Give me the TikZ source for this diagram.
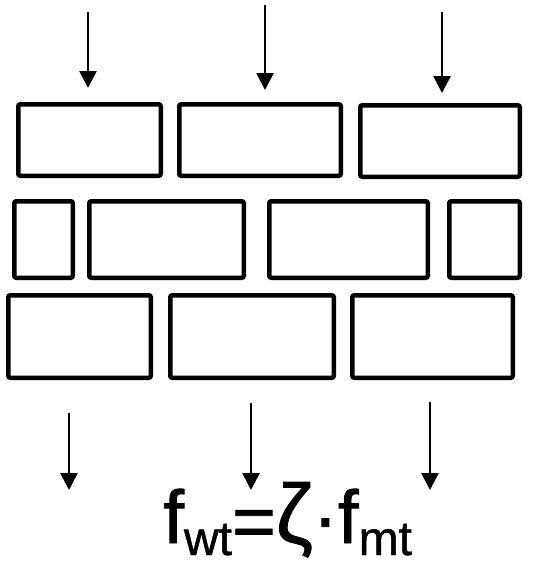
\documentclass[tikz,border=0pt]{standalone}
\usepackage{fontspec}
\setmainfont{Liberation Sans}
\newfontfamily\formfont[FakeBold=1]{Liberation Sans}
\usetikzlibrary{arrows.meta}
\tikzset{
  brick/.style={draw=black, line width=4.5pt, rounded corners=2pt, rectangle, inner sep=0pt},
  load/.style={line width=2.7pt, -{Triangle[width=17pt,length=17pt]}},
}
\newcommand{\subtxt}[1]{\raisebox{-12pt}[30pt][0pt]{\fontsize{48}{48}\selectfont #1}}
\begin{document}
\begin{tikzpicture}[x=1pt,y=-1pt]
\useasboundingbox[fill=white] (0,0) rectangle (541,566);
% row 1
\node[brick, minimum width=142.5pt, minimum height=71.5pt] (a1) at (89.5,140) {};
\node[brick, minimum width=161.5pt, minimum height=71.5pt] (a2) at (260,140) {};
\node[brick, minimum width=159.5pt, minimum height=71.5pt] (a3) at (440,141) {};
% row 2
\node[brick, minimum width=58.5pt, minimum height=76.5pt] (b1) at (43.5,239.5) {};
\node[brick, minimum width=154.5pt, minimum height=76.5pt] (b2) at (166.5,239.5) {};
\node[brick, minimum width=158.5pt, minimum height=76.5pt] (b3) at (348.5,239.5) {};
\node[brick, minimum width=70.5pt, minimum height=76.5pt] (b4) at (484.5,239.5) {};
% row 3
\node[brick, minimum width=142.5pt, minimum height=82.5pt] (c1) at (79.5,336.5) {};
\node[brick, minimum width=163.5pt, minimum height=82.5pt] (c2) at (252,336.5) {};
\node[brick, minimum width=160.5pt, minimum height=82.5pt] (c3) at (432.5,336.5) {};
% top loads
\coordinate (t1s) at (88,12);  \coordinate (t1e) at (88,88);
\coordinate (t2s) at (265,5);  \coordinate (t2e) at (265,90);
\coordinate (t3s) at (442,12); \coordinate (t3e) at (442,93);
\draw[load] (t1s) -- (t1e);
\draw[load] (t2s) -- (t2e);
\draw[load] (t3s) -- (t3e);
% bottom loads
\coordinate (u1s) at (69,413);  \coordinate (u1e) at (69,490);
\coordinate (u2s) at (251,403); \coordinate (u2e) at (251,490);
\coordinate (u3s) at (430,402); \coordinate (u3e) at (430,490);
\draw[load] (u1s) -- (u1e);
\draw[load] (u2s) -- (u2e);
\draw[load] (u3s) -- (u3e);
% formula
\node[anchor=base west, inner sep=0pt, font=\formfont\fontsize{75}{75}\selectfont] (formula) at (163,543)
  {f\subtxt{wt}\raisebox{-4pt}[40pt][0pt]{=}\raisebox{0pt}[60pt][4pt]{\fontsize{84}{84}\selectfont ζ}·f\subtxt{mt}};
\end{tikzpicture}
\end{document}
